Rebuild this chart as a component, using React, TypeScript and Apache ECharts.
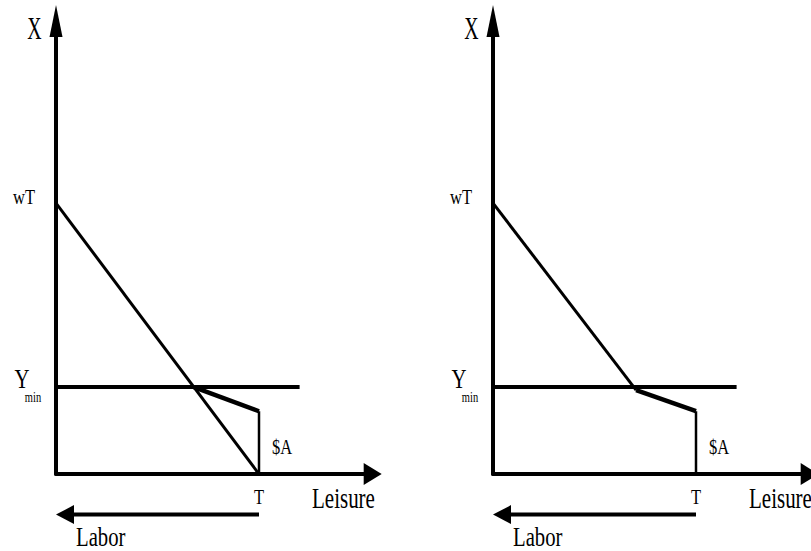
import React, { useEffect, useRef } from 'react';
import * as echarts from 'echarts';

// ---- data (diagram units) ----
const T = 10; // total time endowment (leisure axis)
const wT = 10; // full income
const Ymin = 3.21; // minimum income line
const A = 2.32; // transfer $A
const xMax = 15.6;
const yMax = 16.72;
const yMinLineEnd = 12;

const leftBudget = [[0, wT], [T, 0]];
const leftKink = [[6.79, Ymin], [T, A]];
const rightBudget = [[0, wT], [7.05, 3.1]];
const rightKink = [[7.05, 3.1], [T, A]];
const yMinLine = [[0, Ymin], [yMinLineEnd, Ymin]];
const transferLine = [[T, A], [T, 0]];

// ---- layout ----
const PX_X = 20.3;
const PX_Y = 27.1;
const gridLefts = [56, 493];
const GRID_TOP = 21;
const FONT = 'Liberation Serif';

export default function App() {
  const ref = useRef<HTMLDivElement>(null);
  useEffect(() => {
    const chart = echarts.init(ref.current as HTMLDivElement, null, { renderer: 'svg' });
    const axisCommon = {
      type: 'value',
      axisTick: { show: false },
      axisLabel: { show: false },
      splitLine: { show: false },
    };
    const lineSeries = (gi: number, data: number[][], width: number) => ({
      type: 'line',
      xAxisIndex: gi,
      yAxisIndex: gi,
      data,
      symbol: 'none',
      clip: false,
      silent: true,
      lineStyle: { color: '#000', width, cap: 'butt' },
    });
    chart.setOption({
      animation: false,
      backgroundColor: '#fff',
      grid: gridLefts.map((l) => ({
        left: l,
        top: GRID_TOP,
        width: xMax * PX_X,
        height: yMax * PX_Y,
      })),
      xAxis: [0, 1].map((i) => ({
        ...axisCommon,
        gridIndex: i,
        min: 0,
        max: xMax,
        axisLine: {
          show: true,
          onZero: false,
          symbol: ['none', 'triangle'],
          symbolSize: [22, 18],
          lineStyle: { color: '#000', width: 4 },
        },
      })),
      yAxis: [0, 1].map((i) => ({
        ...axisCommon,
        gridIndex: i,
        min: 0,
        max: yMax,
        axisLine: {
          show: true,
          onZero: false,
          symbol: ['none', 'triangle'],
          symbolSize: [13, 32],
          lineStyle: { color: '#000', width: 4 },
        },
      })),
      series: [
        lineSeries(0, leftBudget, 3),
        lineSeries(0, yMinLine, 4),
        lineSeries(0, leftKink, 4.5),
        lineSeries(0, transferLine, 2.5),
        lineSeries(1, rightBudget, 3),
        lineSeries(1, yMinLine, 4),
        lineSeries(1, rightKink, 4.5),
        lineSeries(1, transferLine, 2.5),
      ],
    });

    const txt = (text: string, x: number, y: number, size: number, sx: number, align = 'center') => ({
      type: 'text',
      x,
      y,
      scaleX: sx,
      silent: true,
      style: { text, fontSize: size, fontFamily: FONT, fill: '#000', align, verticalAlign: 'middle' },
    });

    const graphic: any[] = [];
    [0, 1].forEach((i) => {
      const p = (v: number[]) => chart.convertToPixel({ gridIndex: i }, v) as number[];
      const top = p([0, yMax]);
      const wTp = p([0, wT]);
      const ym = p([0, Ymin]);
      const Tp = p([T, 0]);
      const O = p([0, 0]);
      graphic.push(txt('X', top[0] - 21.5, top[1] + 7, 32, 0.62));
      graphic.push(txt('wT', wTp[0] - 32, wTp[1] - 6, 22, 0.75));
      graphic.push(txt('Y', ym[0] - 34, ym[1] - 8, 27, 0.77));
      graphic.push(txt('min', ym[0] - 23, ym[1] + 10, 15, 0.7));
      graphic.push(txt('$A', Tp[0] + 23, Tp[1] - 27, 22, 0.75));
      graphic.push(txt('T', Tp[0], Tp[1] + 23, 22, 0.75));
      graphic.push(txt('Leisure', Tp[0] + 53, Tp[1] + 24, 30, 0.7, 'left'));
      graphic.push(txt('Labor', O[0] + 20, O[1] + 62, 28, 0.74, 'left'));
      const ay = O[1] + 40.5;
      graphic.push({
        type: 'line',
        silent: true,
        shape: { x1: Tp[0], y1: ay, x2: O[0] + 10, y2: ay },
        style: { stroke: '#000', lineWidth: 4 },
      });
      graphic.push({
        type: 'polygon',
        silent: true,
        shape: { points: [[O[0], ay], [O[0] + 18, ay - 9.5], [O[0] + 18, ay + 9.5]] },
        style: { fill: '#000' },
      });
    });
    chart.setOption({ graphic });
    return () => chart.dispose();
  }, []);
  return (
    <div
      ref={ref}
      style={{ position: 'fixed', left: 0, top: 0, width: 811, height: 551, background: '#fff' }}
    />
  );
}
